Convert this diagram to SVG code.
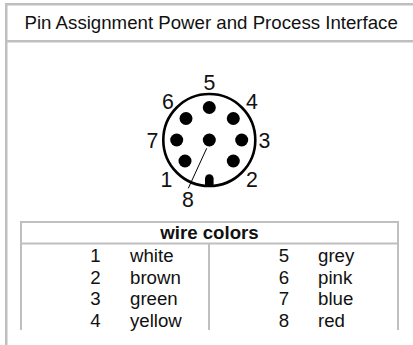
<svg xmlns="http://www.w3.org/2000/svg" width="413" height="345" viewBox="0 0 413 345">
<style>
text{font-family:"Liberation Sans",Arial,sans-serif;fill:#111}
.b{fill:#bfbfbf}
.t{font-size:18.67px}
.n{font-size:21.3px;text-anchor:middle}
.c{text-anchor:middle}
</style>
<rect width="413" height="345" fill="#fff"/>
<g id="frame">
<rect class="b" x="5" y="3" width="408" height="2.5"/>
<rect class="b" x="5" y="3" width="2.5" height="342"/>
<rect class="b" x="5" y="40" width="408" height="2.5"/>
<text class="t" x="24.500" y="29">Pin Assignment Power and Process Interface</text>
</g>
<g id="connector-pinout">
<circle cx="209.3" cy="140" r="46" fill="#fff" stroke="#000" stroke-width="2.6"/>
<g fill="#000">
<circle cx="209.3" cy="107.5" r="6.5"/>
<circle cx="186" cy="118.5" r="6.5"/>
<circle cx="233.3" cy="118.5" r="6.5"/>
<circle cx="176.7" cy="140" r="6.5"/>
<circle cx="241.7" cy="140" r="6.5"/>
<circle cx="209.3" cy="140" r="6.5"/>
<circle cx="185" cy="161" r="6.5"/>
<circle cx="233.3" cy="161" r="6.5"/>
<path d="M205 185.500V178.500a4.300 4.300 0 0 1 8.600 0V185.500Z"/>
</g>
<line x1="206.700" y1="148.300" x2="188.300" y2="188.300" stroke="#000" stroke-width="1"/>
<text class="n" x="209.500" y="90">5</text>
<text class="n" x="168" y="108.500">6</text>
<text class="n" x="252" y="108.500">4</text>
<text class="n" x="152.500" y="147.500">7</text>
<text class="n" x="264.500" y="147.500">3</text>
<text class="n" x="166.500" y="186.500">1</text>
<text class="n" x="252" y="186.500">2</text>
<text class="n" x="188" y="206.500">8</text>
</g>
<g id="wire-table">
<rect class="b" x="20" y="221" width="379" height="2"/>
<rect class="b" x="20" y="242.500" width="379" height="2"/>
<rect class="b" x="20" y="221" width="2" height="109"/>
<rect class="b" x="397" y="221" width="2" height="109"/>
<rect class="b" x="208" y="243" width="2" height="87"/>
<text class="t c" x="209.500" y="239" font-weight="bold">wire colors</text>
<g class="t">
<text class="c" x="95.500" y="262">1</text><text x="130" y="262">white</text>
<text class="c" x="95.500" y="284">2</text><text x="130" y="284">brown</text>
<text class="c" x="95.500" y="305">3</text><text x="130" y="305">green</text>
<text class="c" x="95.500" y="326.500">4</text><text x="130" y="326.500">yellow</text>
<text class="c" x="284" y="262">5</text><text x="318" y="262">grey</text>
<text class="c" x="284" y="284">6</text><text x="318" y="284">pink</text>
<text class="c" x="284" y="305">7</text><text x="318" y="305">blue</text>
<text class="c" x="284" y="326.500">8</text><text x="318" y="326.500">red</text>
</g>
</g>
</svg>
